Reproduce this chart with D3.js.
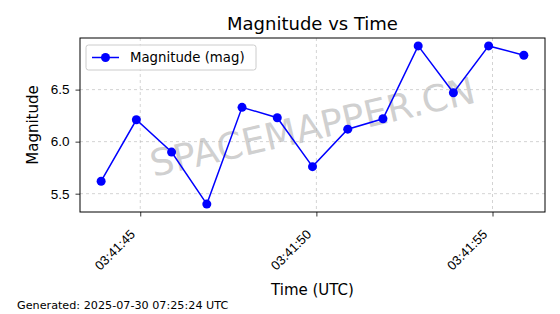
<!DOCTYPE html>
<html>
<head>
<meta charset="utf-8">
<script src="https://cdn.jsdelivr.net/npm/d3@7"></script>
<style>
  body { margin: 0; background: #fff; }
  svg { font-family: "DejaVu Sans", sans-serif; }
</style>
</head>
<body>
<div id="chart"></div>
<script>
// observation times (UTC) and magnitudes
const times = ["03:41:43.89", "03:41:44.89", "03:41:45.89", "03:41:46.89", "03:41:47.89",
  "03:41:48.89", "03:41:49.89", "03:41:50.89", "03:41:51.89", "03:41:52.89",
  "03:41:53.89", "03:41:54.89", "03:41:55.89"];
const magnitudes = [5.62, 6.21, 5.90, 5.40, 6.33, 6.23, 5.76, 6.12, 6.22, 6.92, 6.47, 6.92, 6.83];
const yTicks = [5.5, 6.0, 6.5];
const seriesName = "Magnitude (mag)";
const footer = "Generated: 2025-07-30 07:25:24 UTC";

function initChart() {
    const width = 560, height = 314;
    const margin = { top: 38, right: 15, bottom: 102, left: 80 };
    const iw = width - margin.left - margin.right;
    const ih = height - margin.top - margin.bottom;

    const parse = d3.utcParse("%Y-%m-%dT%H:%M:%S.%L");
    const data = times.map((t, i) => ({
        t: parse("2025-07-30T" + t.padEnd(12, "0")),
        v: magnitudes[i]
    }));

    const svg = d3.select("#chart").append("svg")
        .attr("width", width)
        .attr("height", height);

    // matplotlib-style 5% padding on both axes
    const tExt = d3.extent(data, d => +d.t);
    const tPad = (tExt[1] - tExt[0]) * 0.05;
    const x = d3.scaleUtc()
        .domain([new Date(tExt[0] - tPad), new Date(tExt[1] + tPad)])
        .range([margin.left, margin.left + iw]);

    const vExt = d3.extent(data, d => d.v);
    const vPad = (vExt[1] - vExt[0]) * 0.05;
    const y = d3.scaleLinear()
        .domain([vExt[0] - vPad, vExt[1] + vPad])
        .range([margin.top + ih, margin.top]);

    const xTicks = x.ticks(d3.utcSecond.every(5));

    // grid
    const grid = svg.append("g")
        .attr("stroke", "#b0b0b0")
        .attr("stroke-opacity", 0.7)
        .attr("stroke-width", 0.8)
        .attr("stroke-dasharray", "3,3");
    grid.selectAll(".gx").data(xTicks).enter().append("line")
        .attr("x1", d => x(d)).attr("x2", d => x(d))
        .attr("y1", margin.top).attr("y2", margin.top + ih);
    grid.selectAll(".gy").data(yTicks).enter().append("line")
        .attr("x1", margin.left).attr("x2", margin.left + iw)
        .attr("y1", d => y(d)).attr("y2", d => y(d));

    // watermark
    svg.append("text")
        .attr("transform", `translate(${margin.left + iw / 2},${margin.top + ih / 2 + 2}) rotate(-13)`)
        .attr("text-anchor", "middle")
        .attr("dy", "0.35em")
        .attr("font-size", 37)
        .attr("fill", "#a8a8a8")
        .attr("fill-opacity", 0.55)
        .text("SPACEMAPPER.CN");

    // line + markers
    const line = d3.line().x(d => x(d.t)).y(d => y(d.v));
    svg.append("path")
        .datum(data)
        .attr("fill", "none")
        .attr("stroke", "#0000ff")
        .attr("stroke-width", 1.5)
        .attr("d", line);
    svg.append("g").selectAll("circle")
        .data(data)
        .enter()
        .append("circle")
        .attr("cx", d => x(d.t))
        .attr("cy", d => y(d.v))
        .attr("r", 4.5)
        .attr("fill", "#0000ff");

    // axes
    const xAxis = svg.append("g")
        .attr("transform", `translate(0,${margin.top + ih})`)
        .call(d3.axisBottom(x).tickValues(xTicks).tickFormat(d3.utcFormat("%H:%M:%S")).tickSize(4.5));
    xAxis.selectAll("text")
        .attr("font-size", 13)
        .attr("fill", "#000")
        .attr("x", 0)
        .attr("y", 0)
        .attr("text-anchor", "end")
        .attr("dy", "0.35em")
        .attr("transform", "translate(-8,20) rotate(-45)");
    const yAxis = svg.append("g")
        .attr("transform", `translate(${margin.left},0)`)
        .call(d3.axisLeft(y).tickValues(yTicks).tickFormat(d3.format(".1f")).tickSize(4.5).tickPadding(6));
    yAxis.selectAll("text").attr("font-size", 13.5).attr("fill", "#000");
    svg.selectAll(".domain").remove();
    svg.selectAll(".tick line").attr("stroke", "#000").attr("stroke-width", 0.8);

    svg.append("rect")
        .attr("x", margin.left).attr("y", margin.top)
        .attr("width", iw).attr("height", ih)
        .attr("fill", "none")
        .attr("stroke", "#000")
        .attr("stroke-width", 1);

    // titles
    svg.append("text")
        .attr("x", margin.left + iw / 2).attr("y", 30)
        .attr("text-anchor", "middle")
        .attr("font-size", 18)
        .text("Magnitude vs Time");
    svg.append("text")
        .attr("x", margin.left + iw / 2).attr("y", 295)
        .attr("text-anchor", "middle")
        .attr("font-size", 15)
        .text("Time (UTC)");
    svg.append("text")
        .attr("transform", `translate(38,${margin.top + ih / 2}) rotate(-90)`)
        .attr("text-anchor", "middle")
        .attr("font-size", 15)
        .text("Magnitude");

    // legend
    const lg = svg.append("g").attr("transform", "translate(86,45)");
    lg.append("rect")
        .attr("width", 170).attr("height", 25)
        .attr("rx", 2.5)
        .attr("fill", "#fff").attr("fill-opacity", 0.8)
        .attr("stroke", "#cccccc");
    lg.append("line")
        .attr("x1", 6).attr("x2", 33).attr("y1", 12.5).attr("y2", 12.5)
        .attr("stroke", "#0000ff").attr("stroke-width", 1.5);
    lg.append("circle").attr("cx", 19.5).attr("cy", 12.5).attr("r", 4.5).attr("fill", "#0000ff");
    lg.append("text")
        .attr("x", 44).attr("y", 12.5)
        .attr("dy", "0.36em")
        .attr("font-size", 13.3)
        .text(seriesName);

    // footer
    svg.append("text")
        .attr("x", 17).attr("y", 309)
        .attr("font-size", 11.2)
        .text(footer);
}

document.addEventListener("DOMContentLoaded", initChart);
</script>
</body>
</html>
